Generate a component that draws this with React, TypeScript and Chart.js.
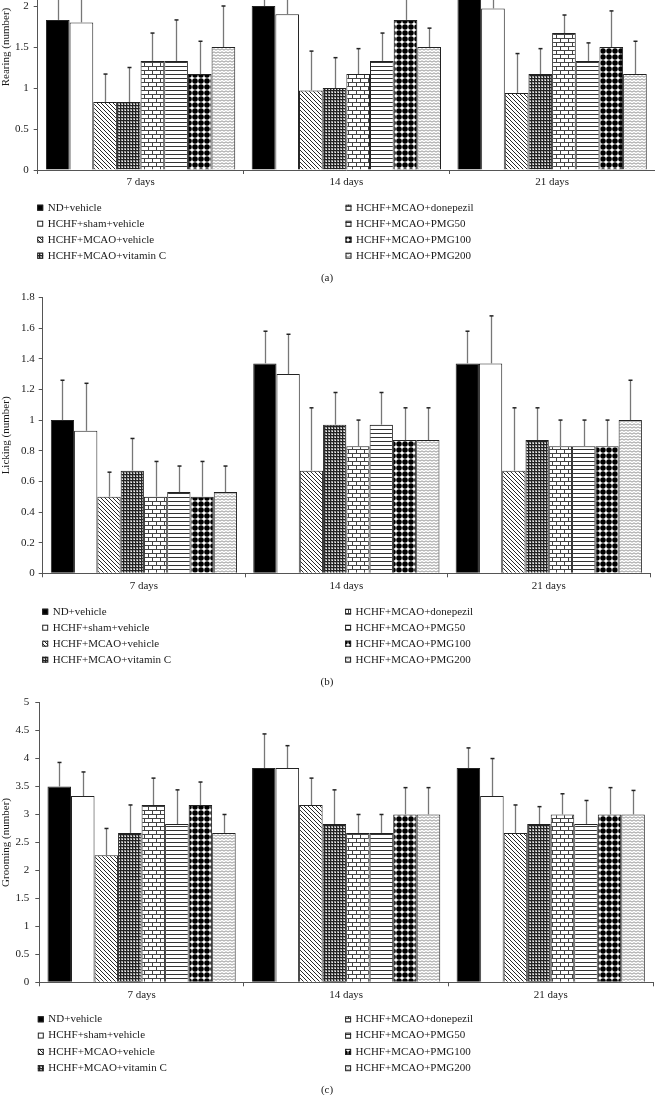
import React, { useEffect, useRef } from 'react';
import { Chart, registerables } from 'chart.js';

Chart.register(...registerables);

const categories = ['7 days', '14 days', '21 days'];
const seriesNames = [
  'ND+vehicle',
  'HCHF+sham+vehicle',
  'HCHF+MCAO+vehicle',
  'HCHF+MCAO+vitamin C',
  'HCHF+MCAO+donepezil',
  'HCHF+MCAO+PMG50',
  'HCHF+MCAO+PMG100',
  'HCHF+MCAO+PMG200',
];

// Rearing (number): means and SD per time point, in series order
const rearing7 = [1.83, 1.8, 0.83, 0.83, 1.33, 1.33, 1.17, 1.5];
const rearing14 = [2.0, 1.9, 0.97, 1.0, 1.17, 1.33, 1.83, 1.5];
const rearing21 = [2.17, 1.97, 0.94, 1.17, 1.67, 1.33, 1.5, 1.17];
const rearingSd7 = [0.5, 0.45, 0.34, 0.42, 0.34, 0.5, 0.4, 0.5];
const rearingSd14 = [0.4, 0.4, 0.48, 0.37, 0.31, 0.34, 0.4, 0.23];
const rearingSd21 = [0.41, 0.38, 0.48, 0.31, 0.22, 0.22, 0.44, 0.4];

// Licking (number)
const licking7 = [1.0, 0.93, 0.5, 0.67, 0.5, 0.53, 0.5, 0.53];
const licking14 = [1.37, 1.3, 0.67, 0.97, 0.83, 0.97, 0.87, 0.87];
const licking21 = [1.37, 1.37, 0.67, 0.87, 0.83, 0.83, 0.83, 1.0];
const lickingSd7 = [0.26, 0.31, 0.16, 0.21, 0.23, 0.17, 0.23, 0.17];
const lickingSd14 = [0.21, 0.26, 0.41, 0.21, 0.17, 0.21, 0.21, 0.21];
const lickingSd21 = [0.21, 0.31, 0.41, 0.21, 0.17, 0.17, 0.17, 0.26];

// Grooming (number)
const grooming7 = [3.5, 3.33, 2.27, 2.67, 3.17, 2.83, 3.17, 2.67];
const grooming14 = [3.83, 3.83, 3.17, 2.83, 2.67, 2.67, 3.0, 3.0];
const grooming21 = [3.83, 3.33, 2.67, 2.83, 3.0, 2.83, 3.0, 3.0];
const groomingSd7 = [0.43, 0.43, 0.48, 0.5, 0.48, 0.61, 0.41, 0.33];
const groomingSd14 = [0.61, 0.4, 0.48, 0.61, 0.33, 0.33, 0.48, 0.48];
const groomingSd21 = [0.36, 0.67, 0.5, 0.31, 0.37, 0.42, 0.48, 0.43];

const FONT = '"Liberation Serif", "Times New Roman", serif';

function makeFills(ctx: CanvasRenderingContext2D): (string | CanvasPattern)[] {
  const tile = (w: number, h: number, draw: (g: CanvasRenderingContext2D) => void) => {
    const c = document.createElement('canvas');
    c.width = w;
    c.height = h;
    const g = c.getContext('2d')!;
    g.fillStyle = '#fff';
    g.fillRect(0, 0, w, h);
    draw(g);
    return ctx.createPattern(c, 'repeat')!;
  };
  const diag = tile(4, 4, (g) => {
    g.strokeStyle = '#111';
    g.lineWidth = 0.9;
    g.beginPath();
    g.moveTo(-1, -1); g.lineTo(5, 5);
    g.moveTo(3, -1); g.lineTo(5, 1);
    g.moveTo(-1, 3); g.lineTo(1, 5);
    g.stroke();
  });
  const grid = tile(3, 3, (g) => {
    g.fillStyle = '#999';
    g.fillRect(0, 0, 3, 3);
    g.fillStyle = '#222';
    g.fillRect(0, 0, 3, 1);
    g.fillRect(0, 0, 1, 3);
    g.fillStyle = '#eee';
    g.fillRect(2, 2, 1, 1);
  });
  const brick = tile(8, 8, (g) => {
    g.strokeStyle = '#444';
    g.lineWidth = 1;
    g.beginPath();
    g.moveTo(0, 0.5); g.lineTo(8, 0.5);
    g.moveTo(0, 4.5); g.lineTo(8, 4.5);
    g.moveTo(0.5, 0.5); g.lineTo(0.5, 4.5);
    g.moveTo(4.5, 4.5); g.lineTo(4.5, 8.5);
    g.stroke();
  });
  const hlines = tile(4, 4, (g) => {
    g.fillStyle = '#333';
    g.fillRect(0, 0, 4, 1);
  });
  const dots = tile(6, 6, (g) => {
    g.fillStyle = '#000';
    g.beginPath();
    g.arc(3, 3, 2.75, 0, Math.PI * 2);
    g.fill();
  });
  const waves = tile(4, 3, (g) => {
    g.strokeStyle = '#666';
    g.lineWidth = 0.7;
    g.beginPath();
    g.moveTo(0, 2.2); g.lineTo(2, 0.8); g.lineTo(4, 2.2);
    g.stroke();
  });
  return ['#000', '#fff', diag, grid, brick, hlines, dots, waves];
}

function makeErrorBarPlugin(sdTable: number[][]) {
  return {
    id: 'errorBars',
    afterDatasetsDraw(chart: any) {
      const { ctx } = chart;
      const yScale = chart.scales.y;
      chart.data.datasets.forEach((ds: any, di: number) => {
        const meta = chart.getDatasetMeta(di);
        meta.data.forEach((bar: any, i: number) => {
          const v = ds.data[i] as number;
          const sd = sdTable[i][di];
          const top = yScale.getPixelForValue(v + sd);
          const x = Math.round(bar.x) + 0.5;
          ctx.save();
          ctx.strokeStyle = '#777';
          ctx.lineWidth = 1.3;
          ctx.beginPath();
          ctx.moveTo(x, bar.y);
          ctx.lineTo(x, top);
          ctx.stroke();
          ctx.strokeStyle = '#222';
          ctx.lineWidth = 1.5;
          ctx.beginPath();
          ctx.moveTo(x - 2, top);
          ctx.lineTo(x + 2, top);
          ctx.stroke();
          ctx.restore();
        });
      });
    },
  };
}

function makeLegendPlugin(fills: (string | CanvasPattern)[], opts: any) {
  return {
    id: 'customLegend',
    afterDraw(chart: any) {
      const { ctx } = chart;
      ctx.save();
      ctx.font = `11px ${FONT}`;
      ctx.textBaseline = 'middle';
      ctx.textAlign = 'left';
      seriesNames.forEach((name, i) => {
        const col = i < 4 ? 0 : 1;
        const row = i % 4;
        const tx = col === 0 ? opts.leftX : opts.rightX;
        const ty = opts.rowTop + row * opts.rowGap;
        const sx = tx - 10.5;
        const sy = ty - 3;
        ctx.fillStyle = fills[i];
        ctx.fillRect(sx, sy, 6, 6);
        ctx.strokeStyle = '#222';
        ctx.lineWidth = 1;
        ctx.strokeRect(sx + 0.5, sy + 0.5, 5, 5);
        ctx.fillStyle = '#1a1a1a';
        ctx.fillText(name, tx, ty);
      });
      ctx.textAlign = 'center';
      ctx.fillText(opts.caption, opts.captionX, opts.captionY);
      ctx.restore();
    },
  };
}

type Spec = {
  top: number;
  height: number;
  yWidth: number;
  padTop: number;
  padBottom: number;
  padRight: number;
  yMax: number;
  step: number;
  yPad: number;
  title: string;
  means: number[][];
  sds: number[][];
  legend: any;
};

const specs: Spec[] = [
  {
    top: -90, height: 383, yWidth: 37.7, padTop: 14, padBottom: 93, padRight: 0,
    yMax: 3, step: 0.5, yPad: 5, title: 'Rearing (number)',
    means: [rearing7, rearing14, rearing21], sds: [rearingSd7, rearingSd14, rearingSd21],
    legend: { leftX: 47.7, rightX: 356, rowTop: 297.7, rowGap: 16, caption: '(a)', captionX: 327, captionY: 368 },
  },
  {
    top: 285, height: 405, yWidth: 42.7, padTop: 12.5, padBottom: 86.7, padRight: 5,
    yMax: 1.8, step: 0.2, yPad: 4, title: 'Licking (number)',
    means: [licking7, licking14, licking21], sds: [lickingSd7, lickingSd14, lickingSd21],
    legend: { leftX: 52.7, rightX: 355.6, rowTop: 326.7, rowGap: 16, caption: '(b)', captionX: 327, captionY: 396.7 },
  },
  {
    top: 690, height: 405, yWidth: 39.3, padTop: 11, padBottom: 82.7, padRight: 2,
    yMax: 5, step: 0.5, yPad: 6, title: 'Grooming (number)',
    means: [grooming7, grooming14, grooming21], sds: [groomingSd7, groomingSd14, groomingSd21],
    legend: { leftX: 48.3, rightX: 355.6, rowTop: 329.3, rowGap: 16.3, caption: '(c)', captionX: 327, captionY: 400 },
  },
];

function Panel({ spec }: { spec: Spec }) {
  const ref = useRef<HTMLCanvasElement>(null);
  useEffect(() => {
    const canvas = ref.current!;
    const ctx = canvas.getContext('2d')!;
    const fills = makeFills(ctx);
    const datasets = seriesNames.map((name, i) => ({
      label: name,
      data: spec.means.map((arr) => arr[i]),
      backgroundColor: fills[i],
      borderColor: '#222',
      borderWidth: 1,
      categoryPercentage: 0.92,
      barPercentage: 1.0,
    }));
    const chart = new Chart(ctx, {
      type: 'bar',
      data: { labels: categories, datasets: datasets as any },
      options: {
        animation: false,
        responsive: false,
        devicePixelRatio: 1,
        layout: { padding: { top: spec.padTop, bottom: spec.padBottom, left: 0, right: spec.padRight } },
        plugins: {
          legend: { display: false },
          tooltip: { enabled: false },
        },
        scales: {
          x: {
            grid: { display: true, drawOnChartArea: false, drawTicks: true, tickLength: 4, color: '#555', offset: true },
            border: { display: true, color: '#555', width: 1 },
            ticks: { color: '#1a1a1a', font: { family: FONT, size: 11 }, padding: 2 },
            afterFit: (s: any) => { s.height = 30; },
          },
          y: {
            min: 0,
            max: spec.yMax,
            ticks: {
              stepSize: spec.step,
              color: '#1a1a1a',
              font: { family: FONT, size: 11 },
              padding: spec.yPad,
              callback: (v: any) => String(Number(Number(v).toFixed(2))),
            },
            grid: { drawOnChartArea: false, drawTicks: true, tickLength: 4, color: '#555' },
            border: { display: true, color: '#555', width: 1 },
            title: { display: true, text: spec.title, color: '#1a1a1a', font: { family: FONT, size: 11 }, padding: { top: 0, bottom: 0 } },
            afterFit: (s: any) => { s.width = spec.yWidth; },
          },
        },
      } as any,
      plugins: [makeErrorBarPlugin(spec.sds), makeLegendPlugin(fills, spec.legend)],
    });
    return () => chart.destroy();
  }, []);
  return (
    <canvas
      ref={ref}
      width={655}
      height={spec.height}
      style={{ position: 'absolute', left: 0, top: spec.top, width: 655, height: spec.height, display: 'block' }}
    />
  );
}

export default function App() {
  return (
    <div style={{ position: 'fixed', left: 0, top: 0, width: 655, height: 1095, overflow: 'hidden', background: '#fff' }}>
      {specs.map((s, i) => (
        <Panel key={i} spec={s} />
      ))}
    </div>
  );
}
